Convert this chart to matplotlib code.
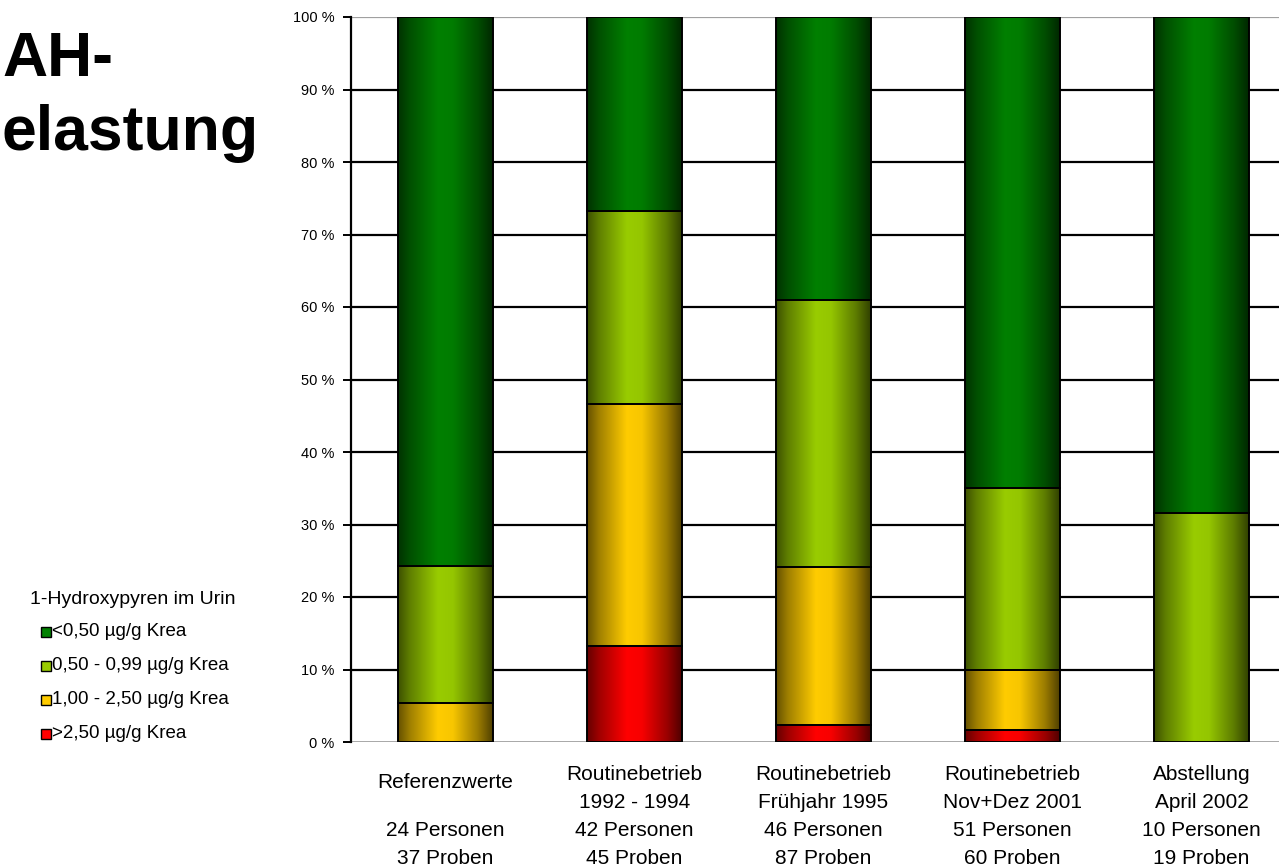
#!/usr/bin/env python3
"""Stacked percentage bars of 1-hydroxypyrene levels in urine per campaign."""

import numpy as np
import matplotlib
matplotlib.use("Agg")
import matplotlib.pyplot as plt
from matplotlib.patches import Rectangle
from matplotlib.transforms import blended_transform_factory

plt.rcParams["font.family"] = ["Liberation Sans", "DejaVu Sans"]

# campaigns (x categories), stacked from bottom to top
campaign_names = ["Referenzwerte", "Routinebetrieb", "Routinebetrieb",
                  "Routinebetrieb", "Abstellung"]
campaign_periods = ["", "1992 - 1994", "Frühjahr 1995", "Nov+Dez 2001", "April 2002"]
persons = ["24 Personen", "42 Personen", "46 Personen", "51 Personen", "10 Personen"]
samples = ["37 Proben", "45 Proben", "87 Proben", "60 Proben", "19 Proben"]

# share of samples (%) per concentration class
pct_above_250 = [0.0, 13.3, 2.3, 1.7, 0.0]
pct_100_250 = [5.4, 33.3, 21.8, 8.3, 0.0]
pct_050_099 = [18.9, 26.7, 36.8, 25.0, 31.6]
pct_below_050 = [75.7, 26.7, 39.1, 65.0, 68.4]

class_labels = ["<0,50 µg/g Krea", "0,50 - 0,99 µg/g Krea",
                "1,00 - 2,50 µg/g Krea", ">2,50 µg/g Krea"]
legend_title = "1-Hydroxypyren im Urin"
title_lines = ["AH-", "elastung"]

# bright centre colour of each class
center_colors = {
    "red": (1.0, 0.0, 0.0),
    "yellow": (1.0, 0.8, 0.0),
    "lime": (0.6, 0.8, 0.0),
    "green": (0.0, 0.5, 0.0),
}

stack = [
    (pct_above_250, "red"),
    (pct_100_250, "yellow"),
    (pct_050_099, "lime"),
    (pct_below_050, "green"),
]

fig = plt.figure(figsize=(12.79, 8.68), dpi=100)
W, H = 1279, 868
ax_left, ax_right = 351, 1296
ax_top, ax_bottom = 17, 742
ax = fig.add_axes([ax_left / W, 1 - ax_bottom / H,
                   (ax_right - ax_left) / W, (ax_bottom - ax_top) / H])
ax.set_xlim(-0.5, 4.5)
ax.set_ylim(0, 100)

# horizontal grid
for yv in range(10, 100, 10):
    ax.axhline(yv, color="black", lw=1.6, zorder=1)
ax.axhline(100, color="#a0a0a0", lw=1.6, zorder=1)
ax.axhline(0, color="#a0a0a0", lw=2.0, zorder=1)

for side in ["top", "right", "bottom"]:
    ax.spines[side].set_visible(False)
ax.spines["left"].set_linewidth(1.6)
ax.set_xticks([])
ax.set_yticks(range(0, 101, 10))
ax.set_yticklabels([f"{v} %" for v in range(0, 101, 10)], fontsize=10.5)
ax.tick_params(axis="y", length=6, width=1.4, pad=6)

# cylinder-like shading across each bar
t = np.linspace(0, 1, 96)
shade = np.interp(t, [0.0, 0.12, 0.42, 0.58, 0.85, 1.0],
                  [0.40, 0.62, 1.0, 0.97, 0.60, 0.32])

bar_w = 0.5
bottoms = np.zeros(len(campaign_names))
for values, key in stack:
    rgb = np.array(center_colors[key])
    strip = (shade[:, None] * rgb[None, :])[None, :, :]
    for i, v in enumerate(values):
        if v <= 0:
            continue
        x0, x1 = i - bar_w / 2, i + bar_w / 2
        y0, y1 = bottoms[i], bottoms[i] + v
        ax.imshow(strip, extent=(x0, x1, y0, y1), aspect="auto",
                  interpolation="bilinear", zorder=2)
        ax.add_patch(Rectangle((x0, y0), bar_w, v, fill=False,
                               edgecolor="black", lw=1.4, zorder=3))
    bottoms += np.array(values)

ax.set_xlim(-0.5, 4.5)
ax.set_ylim(0, 100)

# category labels below the axis
trans = blended_transform_factory(ax.transData, fig.transFigure)
line_y = [775, 803, 830, 858]
lab_fs = 15
for i in range(len(campaign_names)):
    if campaign_periods[i]:
        ax.text(i, 1 - line_y[0] / H, campaign_names[i], transform=trans,
                ha="center", va="center", fontsize=lab_fs)
        ax.text(i, 1 - line_y[1] / H, campaign_periods[i], transform=trans,
                ha="center", va="center", fontsize=lab_fs)
    else:
        ax.text(i, 1 - 783 / H, campaign_names[i], transform=trans,
                ha="center", va="center", fontsize=lab_fs)
    ax.text(i, 1 - line_y[2] / H, persons[i], transform=trans,
            ha="center", va="center", fontsize=lab_fs)
    ax.text(i, 1 - line_y[3] / H, samples[i], transform=trans,
            ha="center", va="center", fontsize=lab_fs)

# title
fig.text(2 / W, 1 - 76 / H, title_lines[0], fontsize=45, fontweight="bold",
         ha="left", va="baseline")
fig.text(1 / W, 1 - 150 / H, title_lines[1], fontsize=45, fontweight="bold",
         ha="left", va="baseline")

# legend
fig.text(30 / W, 1 - 600 / H, legend_title, fontsize=14, va="center")
legend_keys = ["green", "lime", "yellow", "red"]
for j, (lab, key) in enumerate(zip(class_labels, legend_keys)):
    yc = 632 + j * 34
    fig.patches.append(Rectangle((41 / W, 1 - (yc + 5) / H), 10 / W, 10 / H,
                                 transform=fig.transFigure,
                                 facecolor=center_colors[key],
                                 edgecolor="black", lw=1.0))
    fig.text(52 / W, 1 - yc / H, lab, fontsize=13.5, va="center")

fig.savefig("out.png", dpi=100)
